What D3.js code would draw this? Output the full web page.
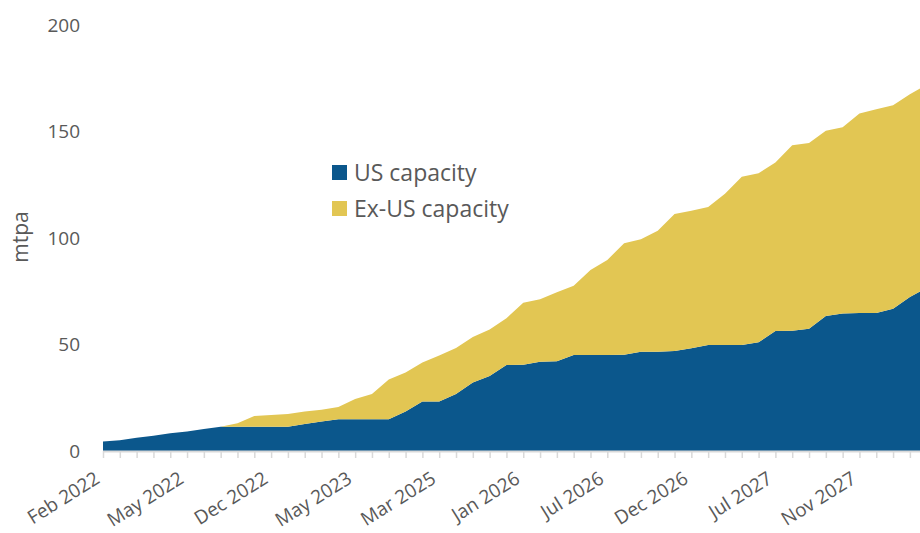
<!DOCTYPE html>
<html>
<head>
<meta charset="utf-8">
<script src="https://cdn.jsdelivr.net/npm/d3@7"></script>
<style>
  body { margin: 0; background: #fff; }
  svg { display: block; font-family: "Open Sans", sans-serif; }
</style>
</head>
<body>
<svg id="chart" width="920" height="533"></svg>
<script>
// project start months (only every 5th is labelled on the axis)
const categories = [
  "Feb 2022", "Mar 2022", "Mar 2022", "Apr 2022", "Apr 2022",
  "May 2022", "Jun 2022", "Jul 2022", "Sep 2022", "Oct 2022",
  "Dec 2022", "Jan 2023", "Feb 2023", "Mar 2023", "Apr 2023",
  "May 2023", "Jul 2023", "Oct 2023", "Feb 2024", "Aug 2024",
  "Mar 2025", "Jun 2025", "Aug 2025", "Oct 2025", "Dec 2025",
  "Jan 2026", "Feb 2026", "Apr 2026", "May 2026", "Jun 2026",
  "Jul 2026", "Aug 2026", "Sep 2026", "Oct 2026", "Nov 2026",
  "Dec 2026", "Jan 2027", "Feb 2027", "Apr 2027", "May 2027",
  "Jul 2027", "Aug 2027", "Sep 2027", "Oct 2027", "Oct 2027",
  "Nov 2027", "Dec 2027", "Jan 2028", "Feb 2028", "Mar 2028"
];

const usCapacity = [
  4.5, 5.0, 6.2, 7.2, 8.3, 9.2, 10.3, 11.4, 11.4, 11.4,
  11.4, 11.4, 12.7, 13.9, 14.9, 14.9, 14.9, 14.9, 18.5, 23.2,
  23.2, 26.8, 32.2, 35.2, 40.4, 40.5, 41.9, 42.1, 45.1, 45.1,
  45.1, 45.2, 46.6, 46.6, 46.9, 48.2, 49.8, 49.8, 49.8, 51.0,
  56.3, 56.4, 57.4, 63.4, 64.6, 64.8, 64.8, 66.8, 72.3, 76.5
];

const exUsCapacity = [
  0, 0, 0, 0, 0, 0, 0, 0, 1.6, 5.0,
  5.5, 6.0, 5.8, 5.5, 5.8, 9.5, 11.9, 18.7, 18.4, 18.3,
  21.6, 21.6, 21.3, 21.9, 21.9, 29.1, 29.3, 32.4, 32.5, 39.9,
  44.6, 52.3, 52.8, 56.8, 64.4, 64.6, 64.8, 71.0, 79.0, 79.4,
  79.2, 87.1, 87.2, 87.0, 87.4, 93.7, 95.6, 95.5, 95.2, 95.5
];

const yTicks = [0, 50, 100, 150, 200];
const seriesNames = ["US capacity", "Ex-US capacity"];
const colors = ["#0b578c", "#e2c653"];

const svg = d3.select("#chart");
const x0 = 103, step = 16.81;
const yBase = 451, yTop = 25;

const x = d3.scaleLinear()
  .domain([0, categories.length - 1])
  .range([x0, x0 + step * (categories.length - 1)]);

const y = d3.scaleLinear()
  .domain([0, 200])
  .range([yBase, yTop]);

const rows = categories.map((c, i) => ({ i, us: usCapacity[i], exus: exUsCapacity[i] }));
const stacked = d3.stack().keys(["us", "exus"])(rows);

const area = d3.area()
  .x(d => x(d.data.i))
  .y0(d => y(d[0]))
  .y1(d => y(d[1]));

svg.append("g")
  .selectAll("path")
  .data(stacked)
  .join("path")
  .attr("fill", (d, i) => colors[i])
  .attr("d", area);

// x axis
const xAxis = svg.append("g")
  .attr("transform", `translate(0,${yBase})`)
  .call(d3.axisBottom(x)
    .tickValues(d3.range(categories.length))
    .tickSize(7)
    .tickFormat(""));
xAxis.select(".domain").attr("stroke", "#d9d9d9").attr("stroke-width", 2)
  .attr("d", `M${x0},0.5H920`);
xAxis.selectAll(".tick line").attr("stroke", "#d9d9d9").attr("stroke-width", 1.5);

svg.append("g")
  .selectAll("text")
  .data(d3.range(0, categories.length, 5))
  .join("text")
  .attr("transform", i => `translate(${x(i) - 2},482) rotate(-32)`)
  .attr("text-anchor", "end")
  .style("font-size", "19px")
  .style("fill", "#595959")
  .text(i => categories[i]);

// y axis labels (no line)
svg.append("g")
  .selectAll("text")
  .data(yTicks)
  .join("text")
  .attr("x", 80)
  .attr("y", d => y(d))
  .attr("dy", "0.35em")
  .attr("text-anchor", "end")
  .style("font-size", "19px")
  .style("fill", "#595959")
  .text(d => d);

svg.append("text")
  .attr("transform", "translate(28,237) rotate(-90)")
  .attr("text-anchor", "middle")
  .style("font-size", "21px")
  .style("fill", "#595959")
  .text("mtpa");

// legend
const legend = svg.append("g")
  .selectAll("g")
  .data(seriesNames)
  .join("g")
  .attr("transform", (d, i) => `translate(332,${165 + i * 36})`);

legend.append("rect")
  .attr("width", 15)
  .attr("height", 15)
  .attr("fill", (d, i) => colors[i]);

legend.append("text")
  .attr("x", 22)
  .attr("y", 7.5)
  .attr("dy", "0.36em")
  .style("font-size", "23px")
  .style("fill", "#595959")
  .text(d => d);
</script>
</body>
</html>
